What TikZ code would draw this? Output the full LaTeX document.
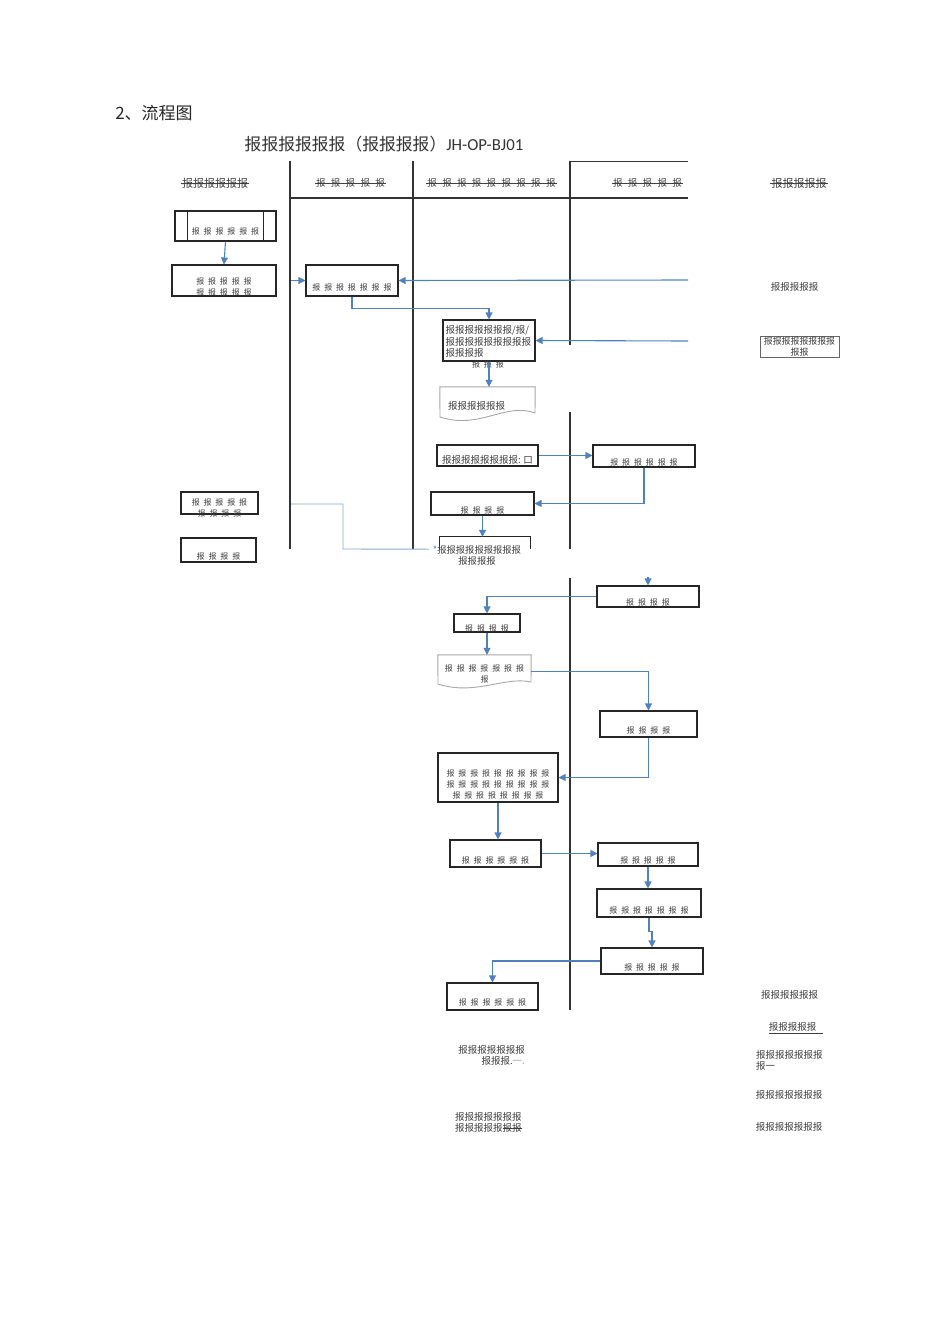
\documentclass[tikz,border=0pt]{standalone}
\usepackage{fontspec}
\setmainfont{Noto Sans CJK SC}
\newfontfamily\lat{Carlito}
\usetikzlibrary{arrows.meta}
\definecolor{lnblue}{RGB}{79,129,189}
\definecolor{txt}{RGB}{60,60,60}
\tikzset{
  lane/.style={draw=black!80, line width=1.3pt},
  box/.style={draw=black!85, line width=1.1pt, rectangle, inner sep=0pt},
  ghost/.style={rectangle, inner sep=0pt},
  lbl/.style={text=txt, inner sep=0pt, align=center, font={\fontsize{8}{11}\selectfont\spaceskip=0.48em\relax}},
  plain/.style={text=txt, inner sep=0pt, font={\fontsize{9.5}{11.2}\selectfont}},
  hd/.style={text=black!75, inner sep=0pt, font={\fontsize{9.5}{11}\selectfont\spaceskip=0.56em\relax}},
  hdb/.style={text=black!75, inner sep=0pt, font={\fontsize{11}{13}\selectfont}},
  strk/.style={draw=black!75, line width=0.7pt, shorten <=-1pt, shorten >=-1pt},
  arr/.style={draw=lnblue, line width=1.1pt, -{Triangle[length=7pt,width=7pt]}},
  cnl/.style={draw=lnblue!70, line width=0.9pt},
  doc/.style={draw=black!35, line width=0.9pt},
}
\begin{document}
\begin{tikzpicture}[x=1pt, y=-1pt]
\useasboundingbox (0,0) rectangle (950,1344);

% titles
\node[inner sep=0pt, text=black!85, font={\fontsize{17}{20}\selectfont}] (t1) at (154,113) {2、流程图};
\node[inner sep=0pt, text=black!80, font={\fontsize{16.8}{19}\selectfont}] (t2) at (384,144) {报报报报报报（报报报报）{\lat JH-OP-BJ01}};

% lanes
\draw[lane] (290,161) -- (290,549);
\draw[lane] (413,161) -- (413,549);
\draw[lane] (570,161) -- (570,345);
\draw[lane] (570,412) -- (570,549);
\draw[lane] (570,578) -- (570,1010);
\draw[lane] (290,198) -- (688,198);
\draw[lane, line width=1pt] (570,161) -- (688,161);

% headers
\node[hdb] (h0) at (215,183) {报报报报报报};
\node[hd] (h1) at (350.5,183) {报 报 报 报 报};
\node[hd] (h2) at (491.5,183) {报 报 报 报 报 报 报 报 报};
\node[hd] (h3) at (647.5,183) {报 报 报 报 报};
\node[hdb] (h4) at (799,183) {报报报报报};
\foreach \h in {h0,h1,h2,h3,h4} \draw[strk] (\h.west) -- (\h.east);

% left column
\node[box, minimum width=101pt, minimum height=30pt, label={[lbl,yshift=-5pt]center:{报 报 报 报 报 报}}] (A) at (225.5,226) {};
\draw[black!85, line width=1.1pt] ([xshift=13pt]A.north west) -- ([xshift=13pt]A.south west)
  ([xshift=-13pt]A.north east) -- ([xshift=-13pt]A.south east);
\node[box, minimum width=104pt, minimum height=31pt, label={[lbl,yshift=-6pt]center:{报 报 报 报 报\\报 报 报 报 报}}] (B) at (224,280.5) {};
\node[box, minimum width=77pt, minimum height=22pt, label={[lbl,yshift=-4.5pt]center:{报 报 报 报 报\\报 报 报 报}}] (J) at (219.5,503) {};
\node[box, minimum width=75pt, minimum height=24pt, label={[lbl,yshift=-6pt]center:{报 报 报 报}}] (K) at (218.5,550) {};

% upper flow
\node[box, minimum width=92pt, minimum height=31pt, label={[lbl,yshift=-6.5pt]center:{报 报 报 报 报 报 报}}] (C) at (352,280.5) {};
\node[box, minimum width=92pt, minimum height=41pt,
  label={[plain, align=left, anchor=west, xshift=3pt, yshift=-1pt]west:{报报报报报报报/报/\\报报报报报报报报报\\报报报报}}] (D) at (489,340.5) {};
\node[lbl] (Dx) at (488,364) {报 报 报};
\node[ghost, minimum width=95pt, minimum height=33pt] (E) at (487.5,403.5) {};
\draw[doc] (E.north west) -- (E.north east) -- (535,413) .. controls (505,402) and (480,430) .. (440,417) -- cycle;
\node[plain, anchor=west] (Et) at (448,406) {报报报报报报};
\node[box, minimum width=101pt, minimum height=21pt, label={[plain,yshift=-4.5pt]center:{报报报报报报报报: 口}}] (F) at (487.5,455.5) {};
\node[box, minimum width=102pt, minimum height=22pt, label={[lbl,yshift=-6pt]center:{报 报 报 报 报 报}}] (G) at (644,456) {};
\node[box, minimum width=103pt, minimum height=23pt, label={[lbl,yshift=-6.5pt]center:{报 报 报 报}}] (H) at (482.5,503.5) {};
\node[ghost, minimum width=90pt, minimum height=12pt] (I) at (485,543) {};
\draw[black!85, line width=1.1pt] (I.south west) -- (I.north west) -- (I.north east) -- (I.south east);
\node[plain, align=center, font={\fontsize{9.3}{11}\selectfont}] (It) at (477,555) {\textcolor{lnblue}{*}报报报报报报报报报\\报报报报};

% right side
\node[plain] (rA) at (794.5,287) {报报报报报};
\node[draw=black!60, line width=0.6pt, inner sep=1pt, minimum width=79pt, minimum height=21pt, plain, align=center, font={\fontsize{8.9}{10.5}\selectfont}] (rB) at (799.5,346.5) {报报报报报报报报\\报报};
\coordinate (in1) at (688,280);
\coordinate (in2) at (688,341);
\coordinate (l1) at (291,0);
\coordinate (jc) at (291,504);

\draw[arr] (B.east -| l1) -- (C.west);
\draw[arr] (A.south) -- (B.north);
\draw[arr] (in1) -- (C.east);
\draw[arr] (C.south) -- ++(0,12) -| (D.north);
\draw[arr] (in2) -- (D.east);
\draw[arr] (D.south) -- (D.south |- E.north);
\draw[arr] (F.east) -- (F.east -| G.west);
\draw[arr] (G.south) |- (H.east);
\draw[arr] (H.south) -- (H.south |- I.north);
\draw[cnl] (jc) -| (343,549) -- ([xshift=-11pt]I.south west);

% lower flow
\coordinate (ltop) at (648,577);
\node[box, minimum width=102pt, minimum height=21pt, label={[lbl,yshift=-5.5pt]center:{报 报 报 报}}] (L) at (648,596.5) {};
\node[box, minimum width=66pt, minimum height=18pt, label={[lbl,yshift=-5pt]center:{报 报 报 报}}] (M) at (487,623) {};
\node[ghost, minimum width=93pt, minimum height=33pt] (N) at (484.5,671.5) {};
\draw[doc] (N.north west) -- (N.north east) -- (531,682) .. controls (505,676) and (475,696) .. (438,684) -- cycle;
\node[lbl] (Nt) at (484.5,674) {报 报 报 报 报 报 报\\报};
\node[box, minimum width=97pt, minimum height=26pt, label={[lbl,yshift=-6pt]center:{报 报 报 报}}] (O) at (648.5,724) {};
\node[box, minimum width=120pt, minimum height=49pt, label={[lbl,yshift=-6.5pt]center:{报 报 报 报 报 报 报 报 报\\报 报 报 报 报 报 报 报 报\\报 报 报 报 报 报 报 报}}] (P) at (498,777.5) {};
\node[box, minimum width=91pt, minimum height=27pt, label={[lbl,yshift=-6.5pt]center:{报 报 报 报 报 报}}] (Q) at (495.5,853.5) {};
\node[box, minimum width=100pt, minimum height=23pt, label={[lbl,yshift=-5.5pt]center:{报 报 报 报 报}}] (R) at (648,854.5) {};
\node[box, minimum width=104pt, minimum height=28pt, label={[lbl,yshift=-7pt]center:{报 报 报 报 报 报 报}}] (S) at (649,903) {};
\node[box, minimum width=102pt, minimum height=26pt, label={[lbl,yshift=-6pt]center:{报 报 报 报 报}}] (T) at (652,961) {};
\node[box, minimum width=91pt, minimum height=27pt, label={[lbl,yshift=-5.5pt]center:{报 报 报 报 报 报}}] (U) at (492.5,996.5) {};

\draw[arr] (ltop) -- (L.north);
\draw[arr] (L.west) -| (M.north);
\draw[arr] (M.south) -- (M.south |- N.north);
\draw[arr] (N.east) -| (O.north);
\draw[arr] (O.south) |- (P.east);
\draw[arr] (P.south) -- (P.south |- Q.north);
\draw[arr] (Q.east) -- (Q.east -| R.west);
\draw[arr] (R.south) -- (R.south |- S.north);
\draw[arr] (S.south) -- ++(0,14) -| (T.north);
\draw[arr] (T.west) -| (U.north);

% bottom notes
\node[plain, align=right, anchor=east] (n1) at (525,1055.5) {报报报报报报报\\报报报.\textcolor{black!35}{一.}};
\node[plain, align=left, anchor=west] (n2) at (455,1122) {报报报报报报报\\报报报报报\rlap{\rule[0.32em]{2em}{0.5pt}}报报};
\node[plain] (n3) at (789.5,995) {报报报报报报};
\node[plain] (n4) at (796,1028) {\underline{报报报报报\hspace{7pt}}};
\node[plain, align=left, anchor=west] (n5) at (756,1060.5) {报报报报报报报\\报一};
\node[plain] (n6) at (789,1095) {报报报报报报报};
\node[plain] (n7) at (789,1127) {报报报报报报报};
\end{tikzpicture}
\end{document}
